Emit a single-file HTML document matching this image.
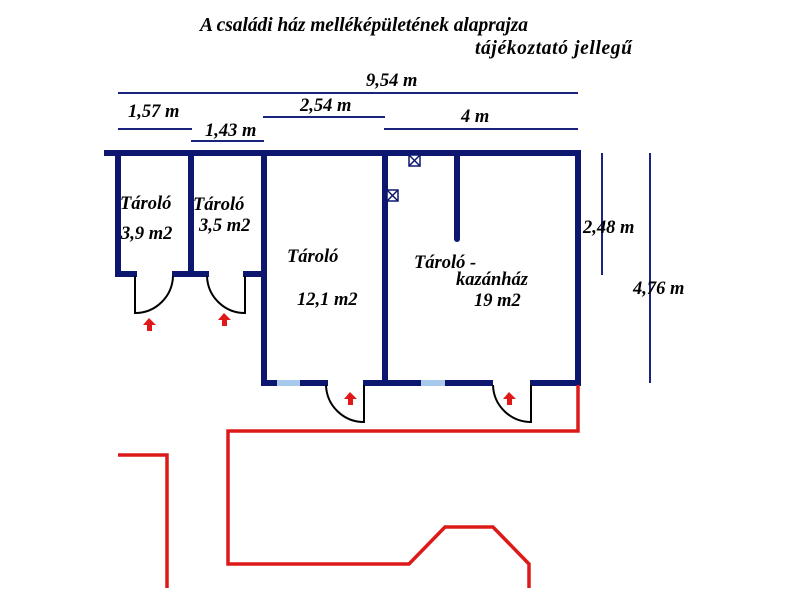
<!DOCTYPE html>
<html><head><meta charset="utf-8"><style>body{margin:0;background:#fff}svg{display:block}</style></head><body>
<svg width="800" height="600" xmlns="http://www.w3.org/2000/svg" font-family="Liberation Serif, serif" font-weight="bold" font-style="italic" font-size="18.5">
<rect width="800" height="600" fill="#fff"/>
<text x="200" y="31" font-size="19.5" textLength="328">A családi ház melléképületének alaprajza</text>
<text x="475" y="54" font-size="19.5" textLength="157">tájékoztató jellegű</text>
<g stroke="#1a237e" stroke-width="2">
<line x1="118" y1="93" x2="578" y2="93"/>
<line x1="118" y1="129" x2="192" y2="129"/>
<line x1="191" y1="141" x2="264" y2="141"/>
<line x1="263" y1="117" x2="385" y2="117"/>
<line x1="384" y1="129" x2="578" y2="129"/>
<line x1="602" y1="153" x2="602" y2="275"/>
<line x1="650" y1="153" x2="650" y2="383"/>
</g>
<text x="366" y="86">9,54 m</text>
<text x="128" y="117">1,57 m</text>
<text x="205" y="136">1,43 m</text>
<text x="300" y="111">2,54 m</text>
<text x="461" y="122">4 m</text>
<text x="583" y="233">2,48 m</text>
<text x="633" y="294">4,76 m</text>
<g stroke="#0d1770" stroke-width="6" fill="none" stroke-linecap="square">
<line x1="107" y1="153" x2="578" y2="153"/>
<line x1="118" y1="153" x2="118" y2="274"/>
<line x1="191" y1="153" x2="191" y2="274"/>
<line x1="264" y1="153" x2="264" y2="383"/>
<line x1="385" y1="153" x2="385" y2="383"/>
<line x1="578" y1="153" x2="578" y2="383"/>
<line x1="118" y1="274" x2="134" y2="274"/>
<line x1="175" y1="274" x2="206" y2="274"/>
<line x1="246" y1="274" x2="264" y2="274"/>
<line x1="264" y1="383" x2="325" y2="383"/>
<line x1="366" y1="383" x2="490" y2="383"/>
<line x1="533" y1="383" x2="578" y2="383"/>
<line x1="457" y1="153" x2="457" y2="239" stroke-linecap="round"/>
</g>
<g stroke="#a8c8ec" stroke-width="6"><line x1="277" y1="383" x2="300" y2="383"/><line x1="421" y1="383" x2="445" y2="383"/></g>
<g stroke="#000" stroke-width="2" fill="none">
<path d="M135 276 V313 A38 38 0 0 0 173 276"/>
<path d="M245 276 V313 A38 38 0 0 1 207 276"/>
<path d="M364 385 V422 A38 38 0 0 1 326 385"/>
<path d="M531 385 V422 A38 38 0 0 1 493 385"/>
</g>
<g stroke="#0d1770" stroke-width="1.5" fill="#fff">
<rect x="409" y="155" width="11" height="11"/><path d="M409 155L420 166M420 155L409 166"/>
<rect x="387" y="190" width="11" height="11"/><path d="M387 190L398 201M398 190L387 201"/>
</g>
<g fill="#e01818">
<path d="M149 318 L143 325 H147 V331 H152 V325 H156 Z"/>
<path d="M224 313 L218 320 H222 V326 H227 V320 H231 Z"/>
<path d="M350 392 L344 399 H348 V405 H353 V399 H357 Z"/>
<path d="M509 392 L503 399 H507 V405 H512 V399 H516 Z"/>
</g>
<g stroke="#dd1a1a" stroke-width="3.5" fill="none">
<path d="M578 385 V431 H228 V564 H409 L445 527 H493 L529 564 V588"/>
<path d="M118 455 H167 V588"/>
</g>
<text x="120" y="209">Tároló</text>
<text x="121" y="239">3,9 m2</text>
<text x="193" y="210">Tároló</text>
<text x="199" y="231">3,5 m2</text>
<text x="287" y="262">Tároló</text>
<text x="297" y="305">12,1 m2</text>
<text x="414" y="268">Tároló -</text>
<text x="456" y="285">kazánház</text>
<text x="474" y="306">19 m2</text>
</svg>
</body></html>
